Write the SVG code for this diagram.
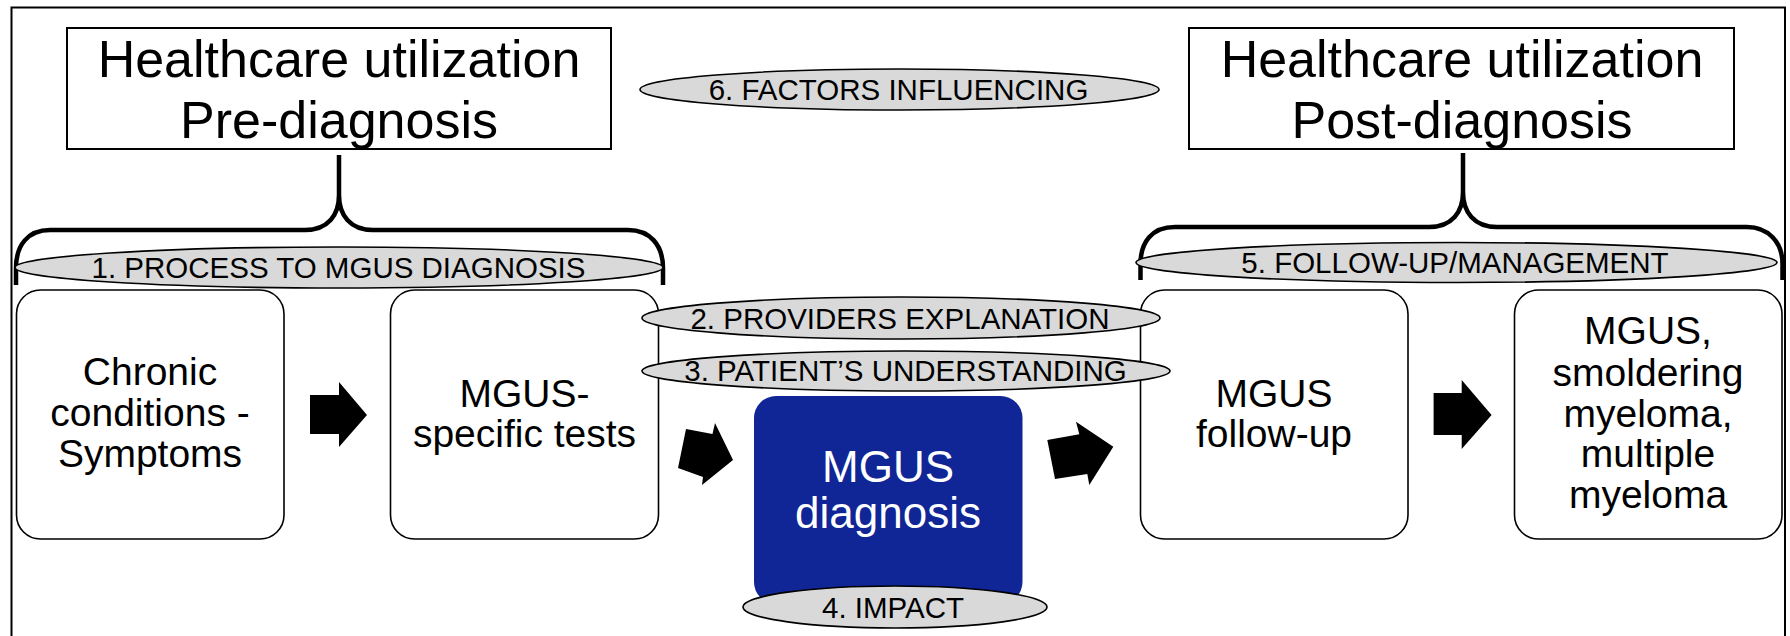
<svg xmlns="http://www.w3.org/2000/svg" width="1790" height="636" viewBox="0 0 1790 636">
<style>
text{font-family:"Liberation Sans",Arial,sans-serif;text-anchor:middle;fill:#000}
.hdr{fill:#fff;stroke:#000;stroke-width:2}
.hdrt{font-size:52px}
.box{fill:#fff;stroke:#000;stroke-width:1.6}
.bt{font-size:39px}
.ell{fill:#d9d9d9;stroke:#000;stroke-width:1.6}
.et{font-size:29.5px}
.brace{fill:none;stroke:#000;stroke-width:4.5}
.arr{fill:#000}
.blue{fill:#102596}
.wt{font-size:44px;fill:#fff}
</style>
<rect x="11.5" y="7.5" width="1773.5" height="700" fill="#fff" stroke="#000" stroke-width="2"/>

<g id="pre-header">
<rect class="hdr" x="67" y="28" width="544" height="121"/>
<text class="hdrt" x="339" y="77">Healthcare utilization</text>
<text class="hdrt" x="339" y="138">Pre-diagnosis</text>
</g>
<g id="post-header">
<rect class="hdr" x="1189" y="28" width="545" height="121"/>
<text class="hdrt" x="1462" y="77">Healthcare utilization</text>
<text class="hdrt" x="1462" y="138">Post-diagnosis</text>
</g>

<g id="braces">
<path class="brace" d="M16,285 L16,268 C16,245 28,230 50,230 L305,230 C328,230 339,215 339,195 L339,155 M339,195 C339,215 350,230 373,230 L628,230 C650,230 663,245 663,268 L663,285"/>
<path class="brace" d="M1140.5,280 L1140.5,264 C1140.5,242 1152,227 1175,227 L1429,227 C1452,227 1463,212 1463,192 L1463,153 M1463,192 C1463,212 1474,227 1497,227 L1747,227 C1768,227 1782.5,242 1782.5,264 L1782.5,280"/>
</g>

<g id="box-chronic">
<rect class="box" x="16.5" y="290" width="267.5" height="249" rx="24"/>
<text class="bt" x="150" y="385">Chronic</text>
<text class="bt" x="150" y="426">conditions -</text>
<text class="bt" x="150" y="467">Symptoms</text>
</g>
<g id="box-tests">
<rect class="box" x="390.5" y="290" width="268" height="249" rx="24"/>
<text class="bt" x="524.5" y="407">MGUS-</text>
<text class="bt" x="524.5" y="447">specific tests</text>
</g>
<g id="box-followup">
<rect class="box" x="1140.5" y="290" width="267.5" height="249" rx="24"/>
<text class="bt" x="1274" y="407">MGUS</text>
<text class="bt" x="1274" y="447">follow-up</text>
</g>
<g id="box-outcome">
<rect class="box" x="1514.5" y="290" width="267.5" height="249" rx="24"/>
<text class="bt" x="1648" y="344">MGUS,</text>
<text class="bt" x="1648" y="386">smoldering</text>
<text class="bt" x="1648" y="427">myeloma,</text>
<text class="bt" x="1648" y="467">multiple</text>
<text class="bt" x="1648" y="508">myeloma</text>
</g>

<g id="box-diagnosis">
<rect class="blue" x="754" y="396" width="268.5" height="208" rx="22"/>
<text class="wt" x="888" y="482">MGUS</text>
<text class="wt" x="888" y="528">diagnosis</text>
</g>

<g id="connectors">
<polygon class="arr" points="310,395 339,395 339,382 367,415 339,447 339,434 310,434"/>
<polygon class="arr" points="686,429 712.5,434 715,423 733,460 702,485 703,477 678,468"/>
<polygon class="arr" points="1047.3,440 1079.3,434.3 1076,421.7 1113.3,446.7 1089.3,485 1087.3,474 1055,479"/>
<polygon class="arr" points="1433.6,393 1461.7,393 1461.7,380 1491.6,415 1461.7,449 1461.7,435 1433.6,435"/>
</g>

<g id="label-1">
<ellipse class="ell" cx="339" cy="267.5" rx="324" ry="20.5"/>
<text class="et" x="338.5" y="277.5">1. PROCESS TO MGUS DIAGNOSIS</text>
</g>
<g id="label-2">
<ellipse class="ell" cx="901" cy="318" rx="259" ry="21"/>
<text class="et" x="900" y="328.5">2. PROVIDERS EXPLANATION</text>
</g>
<g id="label-3">
<ellipse class="ell" cx="906" cy="371" rx="264" ry="20"/>
<text class="et" x="905.5" y="380.5">3. PATIENT’S UNDERSTANDING</text>
</g>
<g id="label-4">
<ellipse class="ell" cx="895" cy="607" rx="152" ry="21"/>
<text class="et" x="893" y="617.5">4. IMPACT</text>
</g>
<g id="label-5">
<ellipse class="ell" cx="1456.5" cy="262.5" rx="320.5" ry="20"/>
<text class="et" x="1455" y="273">5. FOLLOW-UP/MANAGEMENT</text>
</g>
<g id="label-6">
<ellipse class="ell" cx="899.5" cy="89.5" rx="259.5" ry="20.5"/>
<text class="et" x="898.5" y="100">6. FACTORS INFLUENCING</text>
</g>
</svg>
